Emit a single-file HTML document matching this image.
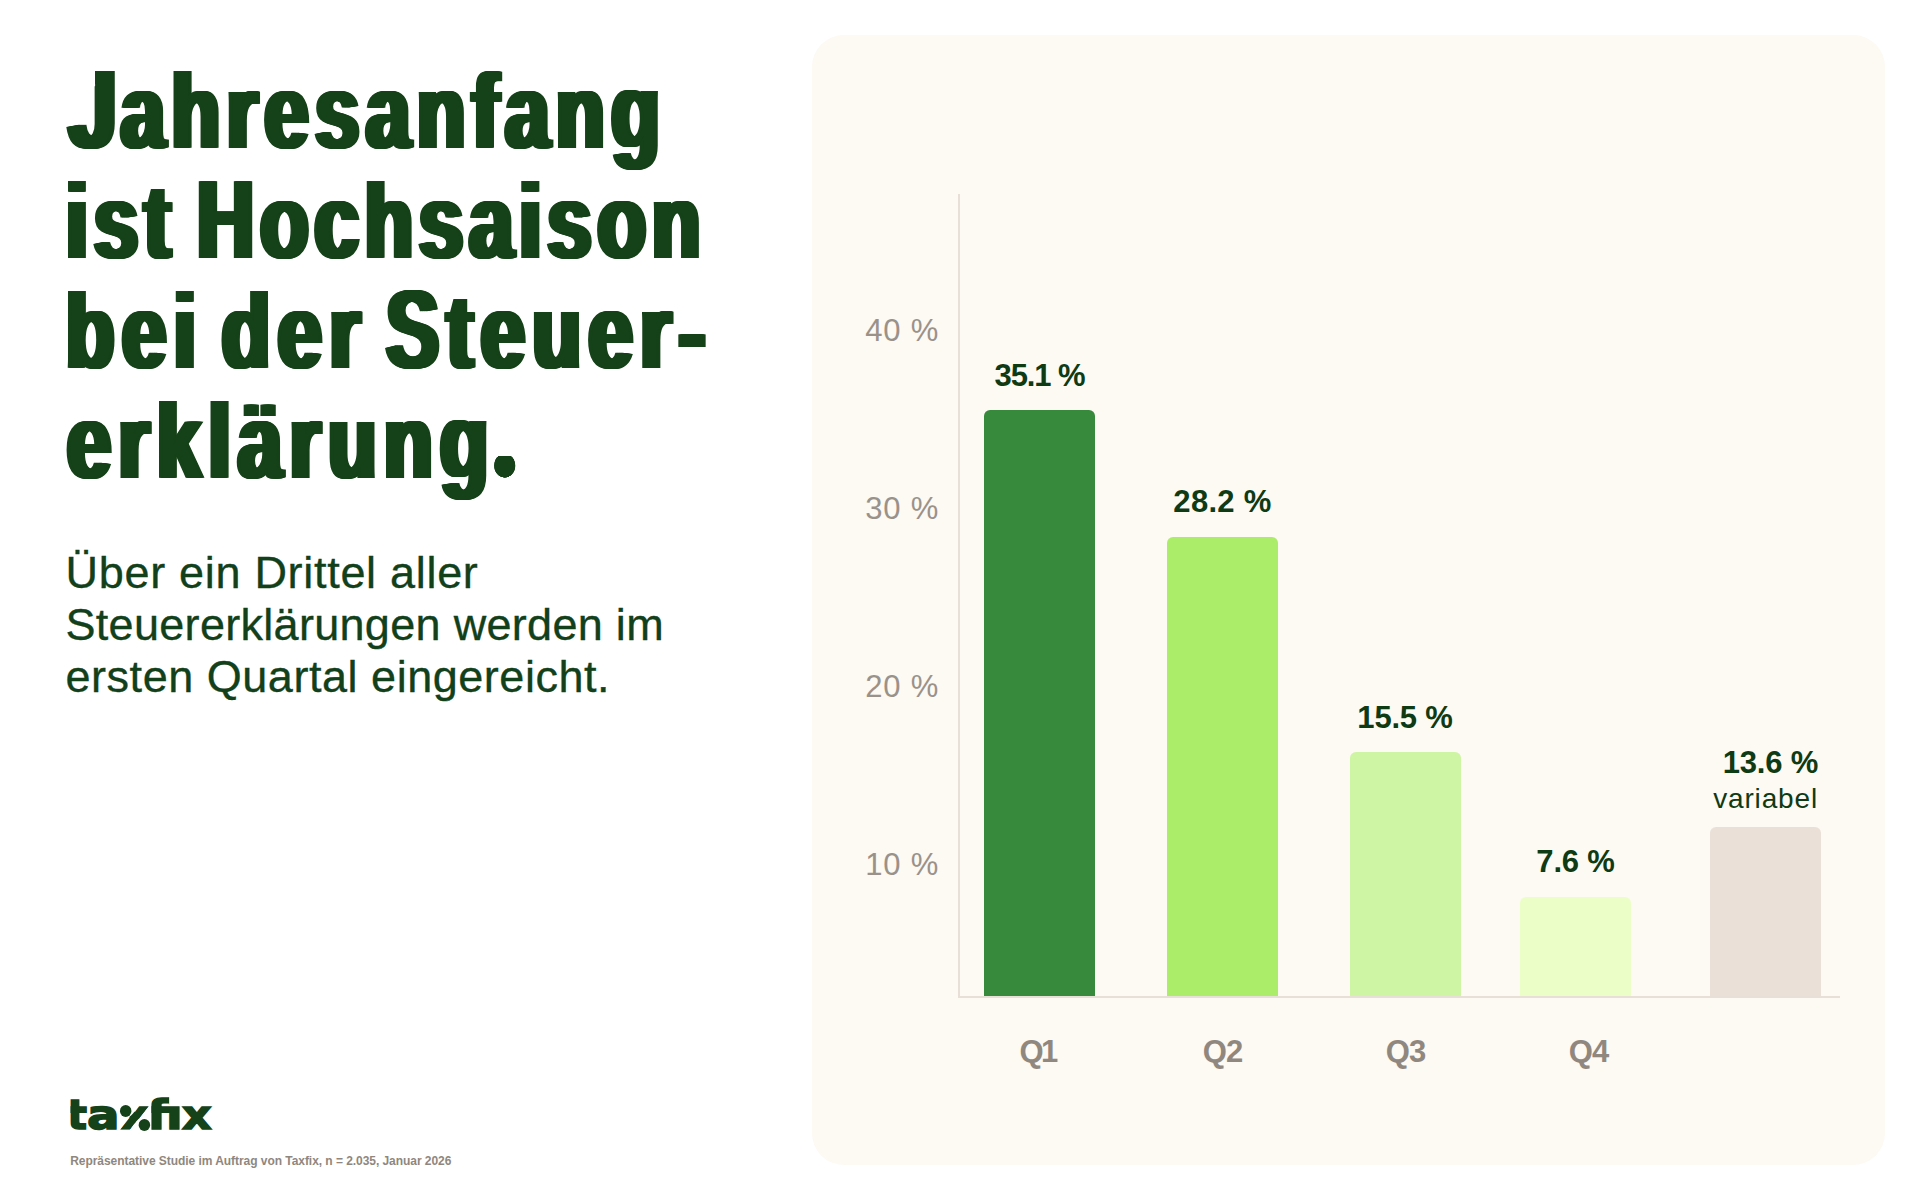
<!DOCTYPE html>
<html lang="de">
<head>
<meta charset="utf-8">
<title>Jahresanfang ist Hochsaison bei der Steuererklärung</title>
<style>
  html, body { margin: 0; padding: 0; }
  body {
    width: 1920px; height: 1200px; position: relative; overflow: hidden;
    background: #ffffff;
    font-family: "Liberation Sans", sans-serif;
  }

  /* ---------- headline ---------- */
  .headline {
    position: absolute; left: 0; top: 0; margin: 0;
    font-family: "Liberation Sans", sans-serif;
    font-weight: 700; font-size: 106px; line-height: 110px;
    color: #164219;
    white-space: nowrap;
    text-shadow:
      -4.8px 0 0 #164219, -3.6px 0 0 #164219, -2.4px 0 0 #164219, -1.2px 0 0 #164219,
       1.2px 0 0 #164219,  2.4px 0 0 #164219,  3.6px 0 0 #164219,  4.8px 0 0 #164219;
  }
  .headline span {
    display: block; position: absolute;
    transform-origin: 0 0; transform: scaleX(0.745);
  }
  .headline b { display: inline-block; font-weight: inherit; transform: scaleY(1.049); transform-origin: 0 90px; }
  .headline b.j { transform: translateX(-1.6px) scale(1.09, 1.049); clip-path: polygon(32.4px -20px, 200px -20px, 200px 200px, -50px 200px, -50px 33px, 32.4px 33px); }
  .headline i.dot {
    display: inline-block; font-style: normal; font-size: 154.4px; line-height: 78.06px; position: relative; top: 1.5px;
    margin-left: -9.6px;
    clip-path: ellipse(14.1px 11.5px at 21.37px 78.5px);
  }
  .headline .l1 { left: 70px; top: 55.7px;  letter-spacing: 9.28px; }
  .headline .l2 { left: 66px; top: 165.7px; letter-spacing: 8.3px;  word-spacing: -10.5px; }
  .headline .l3 { left: 66px; top: 275.7px; letter-spacing: 10.5px; word-spacing: -15.6px; }
  .headline .l4 { left: 67px; top: 385.7px; letter-spacing: 10.3px; }

  /* ---------- sub ---------- */
  .sub {
    position: absolute; left: 65.5px; top: 547px; margin: 0;
    font-size: 45px; line-height: 52px; color: #12401a;
    letter-spacing: 0.5px; white-space: nowrap; font-weight: 400; -webkit-text-stroke: 0.35px #12401a;
  }


  /* ---------- logo ---------- */
  .logo {
    position: absolute; left: 0; top: 1084.6px; margin: 0; height: 60px;
    font-family: "DejaVu Sans", sans-serif; font-weight: 700; font-size: 41px; line-height: 60px;
    color: #164219; -webkit-text-stroke: 1.6px #164219; white-space: nowrap;
  }
  .logo span { display: inline-block; transform-origin: 0 0; vertical-align: baseline; height: 60px; }
  .logo .lt { margin-left: 66.63px; width: 20.64px; transform: scaleX(1.02); clip-path: inset(0 -10px 0 3.3px); }
  .logo .la { width: 33.43px; transform: scaleX(1.174); }
  .logo .xm { width: 26.8px; transform: scaleX(1.04); position: relative; }
  .logo .xs { clip-path: polygon(-1.20px 45.09px, 7.96px 32.72px, 12.04px 28.42px, 17.35px 20.87px, 27.24px 20.87px, 18.49px 32.68px, 14.34px 37.11px, 8.69px 45.09px); }
  .logo .xm::before, .logo .xm::after {
    content: ""; position: absolute; width: 11.2px; height: 11.66px; border-radius: 50%; background: #164219;
  }
  .logo .xm::before { left: -1.43px; top: 20.77px; }
  .logo .xm::after  { left: 16.9px;  top: 34.27px; }
  .logo .lf { width: 35px; transform: scaleX(1.171); clip-path: polygon(3.58px 0, 18.9px 0, 18.9px 20.3px, 40px 20.3px, 40px 60px, 3.58px 60px); }
  .logo .lx { width: 30px; transform: scaleX(1.119); }

  /* ---------- footer ---------- */
  .foot {
    position: absolute; left: 70.2px; top: 1154px; margin: 0;
    font-size: 12px; line-height: 14px; font-weight: 700; color: #8f877e; letter-spacing: -0.05px;
    white-space: nowrap;
  }

  /* ---------- card ---------- */
  .card {
    position: absolute; left: 812px; top: 35px; width: 1073px; height: 1130px;
    background: #fdf9f3; border-radius: 32px;
  }
  .axis-y { position: absolute; left: 958px; top: 194px; width: 2px; height: 804px; background: #e8dfd8; }
  .axis-x { position: absolute; left: 958px; top: 996px; width: 882px; height: 2px; background: #e8dfd8; }
  .bar { position: absolute; width: 111px; border-radius: 6px 6px 0 0; }
  .ylab { position: absolute; width: 120px; left: 819.2px; text-align: right; font-size: 31px; line-height: 36px; color: #9a928a; white-space: nowrap; letter-spacing: 0.8px; }
  .val { position: absolute; width: 200px; text-align: center; font-size: 31px; line-height: 36px; font-weight: 700; color: #0e3b14; white-space: nowrap; }
  .xlab { position: absolute; width: 200px; text-align: center; font-size: 31px; line-height: 36px; font-weight: 700; color: #90887f; white-space: nowrap; }
</style>
</head>
<body>

<h1 class="headline">
  <span class="l1"><b class="j">J</b>ahresanfang</span>
  <span class="l2">ist <b>H</b>ochsaison</span>
  <span class="l3">bei der <b>S</b>teuer-</span>
  <span class="l4">erklärung<i class="dot">.</i></span>
</h1>

<p class="sub"><span style="letter-spacing:0.7px">Über ein Drittel aller</span><br><span style="letter-spacing:0.3px">Steuererklärungen werden im</span><br><span style="letter-spacing:0.53px">ersten Quartal eingereicht.</span></p>

<div class="logo"><span class="lt">t</span><span class="la">a</span><span class="xm"><span class="xs">x</span></span><span class="lf">fi</span><span class="lx">x</span></div>

<p class="foot">Repräsentative Studie im Auftrag von Taxfix, n = 2.035, Januar 2026</p>

<div class="card"></div>
<div class="axis-y"></div>
<div class="axis-x"></div>

<div class="bar" style="left:984px;  top:410px; height:586px; background:#378a3b"></div>
<div class="bar" style="left:1167px; top:537px; height:459px; background:#abed69"></div>
<div class="bar" style="left:1350px; top:752px; height:244px; background:#cef5a3"></div>
<div class="bar" style="left:1520px; top:897px; height:99px;  background:#ecfec7"></div>
<div class="bar" style="left:1710px; top:827px; height:169px; background:#eae0d7"></div>

<div class="ylab" style="top:313.1px">40 %</div>
<div class="ylab" style="top:491.3px">30 %</div>
<div class="ylab" style="top:669.4px">20 %</div>
<div class="ylab" style="top:847.4px">10 %</div>

<div class="val" style="left:939.5px;  top:357.5px; letter-spacing:-1.1px">35.1 %</div>
<div class="val" style="left:1122.5px; top:483.9px; letter-spacing:0.3px">28.2 %</div>
<div class="val" style="left:1305px; top:699.6px; letter-spacing:-0.2px">15.5 %</div>
<div class="val" style="left:1475.5px; top:844px; letter-spacing:-0.2px">7.6 %</div>
<div class="val" style="left:1618px; top:744.8px; text-align:right; letter-spacing:-0.2px">13.6 %</div>
<div class="val" style="left:1618px; top:780.8px; text-align:right; font-weight:400; font-size:28px; letter-spacing:0.85px">variabel</div>

<div class="xlab" style="left:937.7px;  top:1033.5px; letter-spacing:-2.5px">Q1</div>
<div class="xlab" style="left:1122.5px; top:1033.5px; letter-spacing:-1px">Q2</div>
<div class="xlab" style="left:1305.5px; top:1033.5px; letter-spacing:-1px">Q3</div>
<div class="xlab" style="left:1488.5px; top:1033.5px; letter-spacing:-1px">Q4</div>

</body>
</html>
